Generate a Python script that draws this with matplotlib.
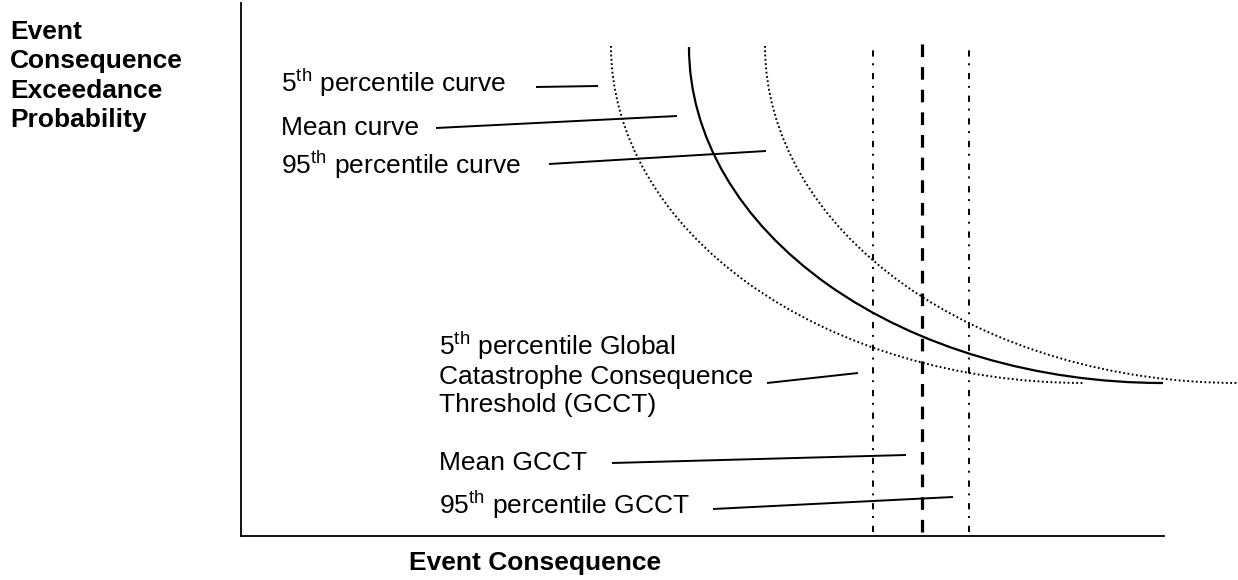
import matplotlib.pyplot as plt
from matplotlib.patches import Arc

plt.rcParams['font.family'] = ['Liberation Sans', 'DejaVu Sans']
plt.rcParams['mathtext.fontset'] = 'custom'
plt.rcParams['mathtext.rm'] = 'Liberation Sans'
plt.rcParams['lines.scale_dashes'] = False

# exceedance curves: vertical at the top start, flat at the bottom end
curve_labels = ['5$^{\\mathrm{th}}$ percentile curve', 'Mean curve',
                '95$^{\\mathrm{th}}$ percentile curve']
curve_start_x = [370, 448, 524]
curve_end_x = [843, 922, 997]
curve_top_y = [490, 489, 490]
curve_bottom_y = [153, 153, 153]

# global catastrophe consequence thresholds
gcct_labels = ['5$^{\\mathrm{th}}$ percentile Global\nCatastrophe Consequence\nThreshold (GCCT)',
               'Mean GCCT', '95$^{\\mathrm{th}}$ percentile GCCT']
gcct_x = [632, 681, 728]
gcct_top = 493
gcct_bottom = 4

# label anchors and leader lines (x0, y0, x1, y1)
curve_text_xy = [(40, 453), (40, 408), (40, 371)]
curve_leaders = [(295, 449, 357, 450), (195, 408, 436, 420), (308, 372, 525, 385)]
gcct_text_xy = [(198, 163), (198, 73), (198, 31)]
gcct_leaders = [(526, 153, 617, 163), (371, 73, 665, 81), (472, 27, 712, 39)]

fig = plt.figure(figsize=(12.38, 5.8), dpi=100)
ax = fig.add_axes([241 / 1238, 44 / 580, 923 / 1238, 533 / 580])
ax.set_xlim(0, 923)
ax.set_ylim(0, 533)
ax.set_xticks([])
ax.set_yticks([])
for s in ['top', 'right']:
    ax.spines[s].set_visible(False)
for s in ['left', 'bottom']:
    ax.spines[s].set_linewidth(1.3)

curve_ls = [(0, (1.3, 1.8)), '-', (0, (1.3, 1.8))]
curve_lw = [1.4, 1.6, 1.4]
for i in range(3):
    w = 2 * (curve_end_x[i] - curve_start_x[i])
    h = 2 * (curve_top_y[i] - curve_bottom_y[i])
    arc = Arc((curve_end_x[i], curve_top_y[i]), w, h, theta1=180, theta2=270,
              color='black', lw=curve_lw[i], linestyle=curve_ls[i], clip_on=False)
    ax.add_patch(arc)

gcct_ls = [(0, (4.5, 5.6, 1.4, 4.8)), (0, (9.1, 7.2)), (0, (4.5, 5.6, 1.4, 4.8))]
gcct_lw = [1.4, 2.3, 1.4]
for i in range(3):
    ax.plot([gcct_x[i], gcct_x[i]], [gcct_bottom, gcct_top], color='black',
            lw=gcct_lw[i], linestyle=gcct_ls[i])

for (tx, ty), lab in zip(curve_text_xy + gcct_text_xy, curve_labels + gcct_labels):
    ax.text(tx, ty, lab, fontsize=19, ha='left', va='center', linespacing=1.2)

for x0, y0, x1, y1 in curve_leaders + gcct_leaders:
    ax.plot([x0, x1], [y0, y1], color='black', lw=1.4, solid_capstyle='butt')

fig.text(10 / 1238, 1 - 76 / 580, 'Event\nConsequence\nExceedance\nProbability',
         fontsize=19, fontweight='bold', ha='left', va='center', linespacing=1.28)
fig.text(409 / 1238, 1 - 563 / 580, 'Event Consequence', fontsize=19,
         fontweight='bold', ha='left', va='center')

fig.savefig('out.png', dpi=100)
